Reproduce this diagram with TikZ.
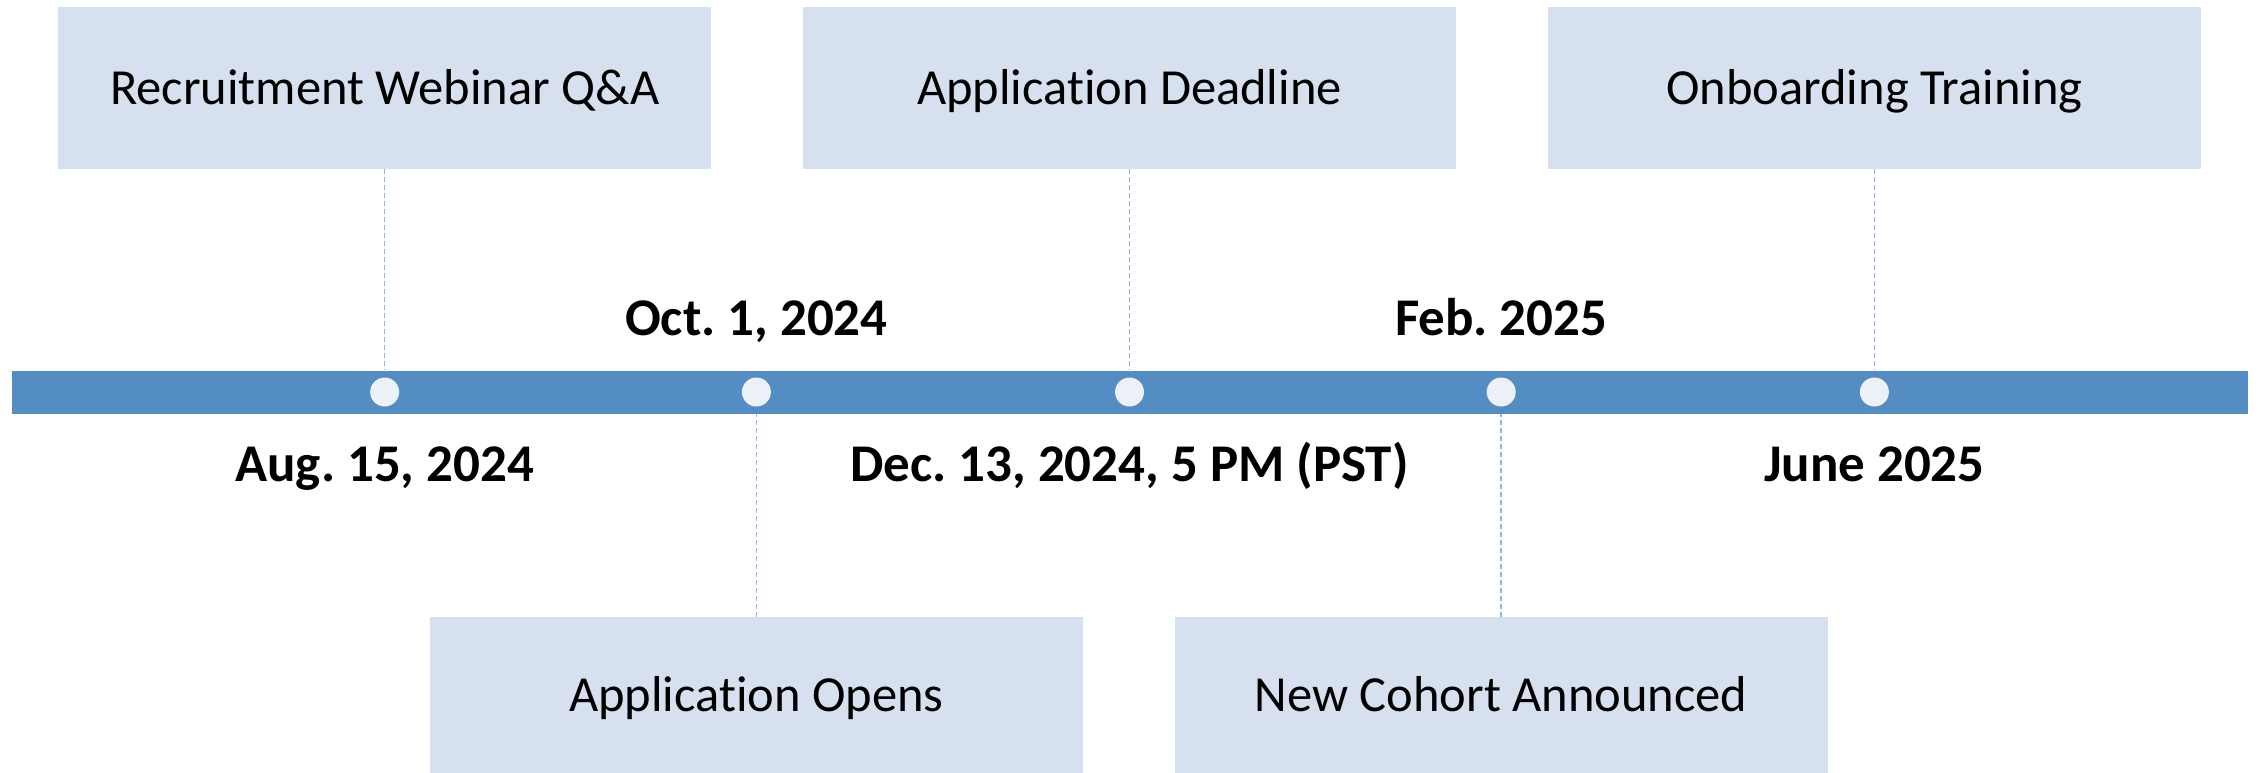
\documentclass[tikz,border=0pt]{standalone}
\usepackage{fontspec}
\setmainfont{Carlito}[RawFeature={-liga;-clig;-dlig;-calt}]
\definecolor{boxfill}{RGB}{214,224,238}
\definecolor{barfill}{RGB}{84,141,196}
\definecolor{dotfill}{RGB}{236,241,247}
\definecolor{linec}{RGB}{142,180,227}
\frenchspacing
\begin{document}
\begin{tikzpicture}[x=1pt,y=-1pt,
  evbox/.style={fill=boxfill, minimum width=653pt, minimum height=161pt, inner sep=0pt,
    text height=36pt, text depth=3pt, font=\fontsize{50.5}{60}\selectfont},
  lowbox/.style={evbox, minimum height=156pt},
  datelbl/.style={font=\bfseries\fontsize{53}{64}\selectfont, inner sep=0pt, text height=36pt, text depth=4pt},
  dot/.style={circle, fill=dotfill, minimum size=29pt, inner sep=0pt},
  link/.style={draw=linec, line width=1.5pt, dash pattern=on 5pt off 3pt}]
\useasboundingbox (0,0) rectangle (2259,773);
\node[fill=barfill, minimum width=2236pt, minimum height=43pt, inner sep=0pt] (bar) at (1129.5,392) {};
\node[dot] (c1) at (384.7,392) {};
\node[dot] (c2) at (756.4,392) {};
\node[dot] (c3) at (1129.5,392) {};
\node[dot] (c4) at (1501.2,392) {};
\node[dot] (c5) at (1874.4,392) {};
\node[evbox] (b1) at (384.7,88) {Recruitment Webinar Q\&A};
\node[evbox] (b3) at (1129.5,88) {Application Deadline};
\node[evbox] (b5) at (1874.4,88) {Onboarding Training};
\node[lowbox] (b2) at (756.4,695) {Application Opens};
\node[lowbox] (b4) at (1501.2,695) {New Cohort Announced};
\node[datelbl] (d2) at (756.4,319) {Oct. 1, 2024};
\node[datelbl] (d4) at (1501.2,319) {Feb. 2025};
\node[datelbl] (d1) at (384.7,465.5) {Aug. 15, 2024};
\node[datelbl] (d3) at (1129.5,465.5) {Dec. 13, 2024, 5 PM (PST)};
\node[datelbl] (d5) at (1874.4,465.5) {June 2025};
\draw[link] (b1.south) -- (b1.south |- bar.north);
\draw[link] (b3.south) -- (b3.south |- bar.north);
\draw[link] (b5.south) -- (b5.south |- bar.north);
\draw[link] (b2.north) -- (b2.north |- bar.south);
\draw[link] (b4.north) -- (b4.north |- bar.south);
\end{tikzpicture}
\end{document}
